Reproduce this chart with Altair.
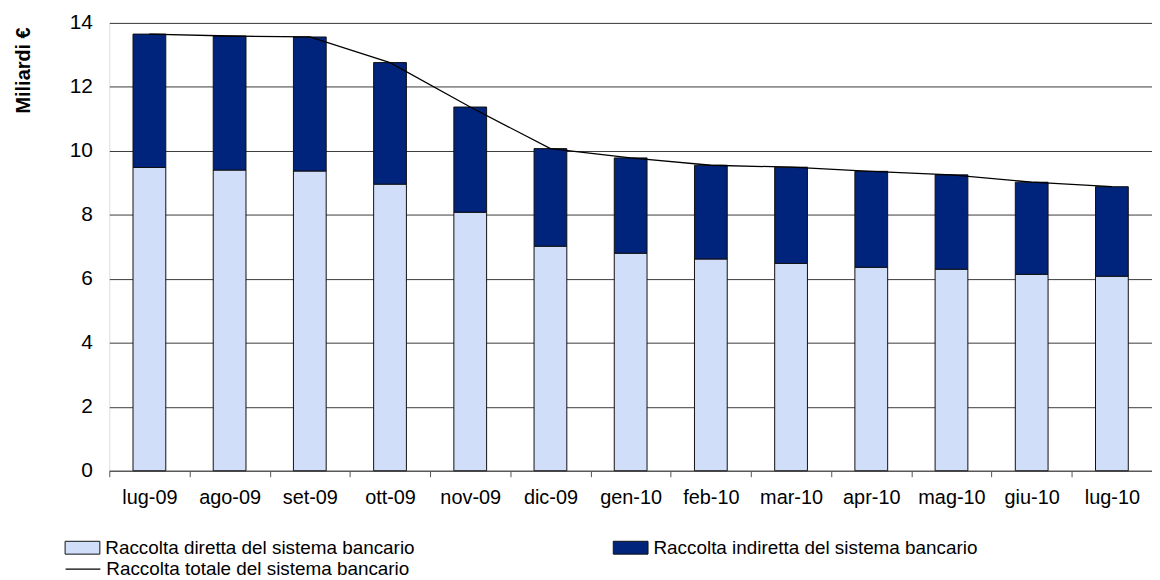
import altair as alt
import pandas as pd

months = ["lug-09", "ago-09", "set-09", "ott-09", "nov-09", "dic-09", "gen-10",
          "feb-10", "mar-10", "apr-10", "mag-10", "giu-10", "lug-10"]
diretta = [9.48, 9.40, 9.37, 8.96, 8.08, 7.02, 6.80, 6.62, 6.48, 6.36, 6.30, 6.14, 6.08]
indiretta = [4.17, 4.19, 4.19, 3.80, 3.29, 3.05, 2.98, 2.93, 3.01, 3.00, 2.95, 2.88, 2.80]
series = ["Raccolta diretta del sistema bancario", "Raccolta indiretta del sistema bancario"]
line_name = "Raccolta totale del sistema bancario"
y_ticks = [0, 2, 4, 6, 8, 10, 12, 14]

rows = []
for i, m in enumerate(months):
    rows.append({"mese": m, "serie": series[0], "ord": 0, "valore": diretta[i]})
    rows.append({"mese": m, "serie": series[1], "ord": 1, "valore": indiretta[i]})
df = pd.DataFrame(rows)

FONT = "Liberation Sans"

x_enc = alt.X("mese:N", sort=months, title=None,
              scale=alt.Scale(paddingInner=0, paddingOuter=0),
              axis=alt.Axis(labelAngle=0, labelFontSize=20, labelColor="black",
                            labelFont=FONT, labelPadding=11, tickBand="extent",
                            tickSize=6, tickColor="#555555", domainColor="#555555",
                            grid=False))

bars = alt.Chart(df).mark_bar(size=33, stroke="#111111", strokeWidth=1).encode(
    x=x_enc,
    y=alt.Y("valore:Q", stack="zero", title="Miliardi €",
            scale=alt.Scale(domain=[0, 14], nice=False),
            axis=alt.Axis(values=y_ticks, domain=False, ticks=False, grid=True,
                          gridColor="#3a3a3a", gridWidth=1,
                          labelFontSize=21, labelColor="black", labelFont=FONT,
                          labelPadding=17, titleFont=FONT, titleFontSize=20,
                          titleFontWeight="bold", titleColor="black",
                          titleX=-86, titleY=4, titleAlign="right",
                          titleBaseline="middle", titleAngle=-90)),
    fill=alt.Fill("serie:N",
                  scale=alt.Scale(domain=series, range=["#D0DEFA", "#00237C"]),
                  legend=alt.Legend(title=None, orient="none", legendX=-45, legendY=510.5,
                                    columns=2, columnPadding=197, padding=0,
                                    labelFont=FONT, labelFontSize=19, labelColor="black",
                                    labelLimit=600, labelOffset=5,
                                    symbolType="M-1,-0.37H1V0.37H-1Z", symbolSize=1225,
                                    symbolStrokeColor="#111111", symbolStrokeWidth=1,
                                    symbolOpacity=1)),
    order=alt.Order("ord:Q", sort="ascending"),
)

line = alt.Chart(df).transform_aggregate(
    totale="sum(valore)", groupby=["mese"]
).transform_calculate(
    linea="'" + line_name + "'"
).mark_line(strokeWidth=1.3).encode(
    x=alt.X("mese:N", sort=months),
    y=alt.Y("totale:Q"),
    stroke=alt.Stroke("linea:N",
                      scale=alt.Scale(domain=[line_name], range=["black"]),
                      legend=alt.Legend(title=None, orient="none", legendX=-45, legendY=531.5,
                                        padding=0, labelFont=FONT, labelFontSize=19,
                                        labelColor="black", labelLimit=600, labelOffset=5,
                                        symbolType="stroke", symbolSize=1225,
                                        symbolStrokeWidth=1.3)),
)

chart = alt.layer(bars, line).properties(
    width=1050, height=451,
    autosize=alt.AutoSizeParams(type="none"),
    padding={"left": 102, "top": 13, "right": 0, "bottom": 108},
).configure_view(stroke=None).configure(background="white")

chart.save("out.html", embed_options={"renderer": "svg", "actions": False})
